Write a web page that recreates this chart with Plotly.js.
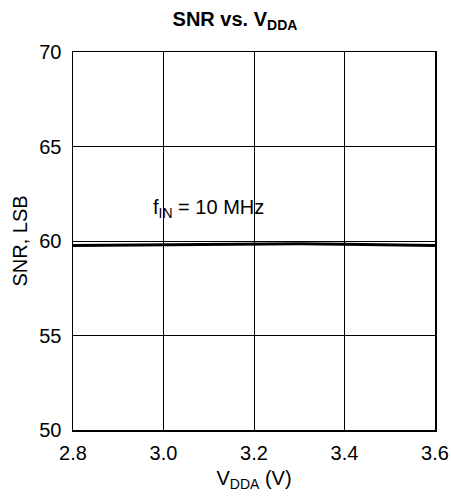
<!DOCTYPE html>
<html>
<head>
<meta charset="utf-8">
<script src="https://cdn.plot.ly/plotly-3.0.1.min.js"></script>
<style>html,body{margin:0;padding:0;background:#fff;}#chart{width:451px;height:501px;}</style>
</head>
<body>
<div id="chart"></div>
<script>
const vdda = [2.8, 2.9, 3.0, 3.1, 3.2, 3.3, 3.4, 3.5, 3.6];
const snr = [59.76, 59.78, 59.80, 59.83, 59.85, 59.85, 59.83, 59.80, 59.76];
const xTicks = [2.8, 3.0, 3.2, 3.4, 3.6];
const xTickLabels = ["2.8", "3.0", "3.2", "3.4", "3.6"];
const yTicks = [50, 55, 60, 65, 70];

const font = "Liberation Sans, Arial, sans-serif";
Plotly.newPlot('chart', [{
  x: vdda, y: snr, type: 'scatter', mode: 'lines',
  line: {color: '#000', width: 3}, hoverinfo: 'skip'
}], {
  width: 451, height: 501,
  margin: {l: 73, r: 16, t: 52, b: 71},
  paper_bgcolor: '#fff', plot_bgcolor: '#fff',
  showlegend: false,
  title: {text: '<b>SNR vs. V<sub>DDA</sub></b>', font: {family: font, size: 20, color: '#000'}, x: 0.521, xanchor: 'center', y: 0.962, yanchor: 'middle'},
  xaxis: {
    range: [2.8, 3.6], tickvals: xTicks, ticktext: xTickLabels,
    showgrid: true, gridcolor: '#000', gridwidth: 1,
    showline: true, linecolor: '#000', linewidth: 1.5, mirror: true,
    ticks: '', zeroline: false, ticklabelstandoff: 4,
    tickfont: {family: font, size: 20, color: '#000'},
    title: {text: 'V<sub>DDA</sub> (V)', font: {family: font, size: 20, color: '#000'}, standoff: 8}
  },
  yaxis: {
    range: [50, 70], tickvals: yTicks,
    showgrid: true, gridcolor: '#000', gridwidth: 1,
    showline: true, linecolor: '#000', linewidth: 1.5, mirror: true,
    ticks: '', zeroline: false, ticklabelstandoff: 6,
    tickfont: {family: font, size: 20, color: '#000'},
    title: {text: 'SNR, LSB', font: {family: font, size: 20, color: '#000'}, standoff: 6}
  },
  annotations: [{
    x: 3.1, y: 61.7, xref: 'x', yref: 'y', showarrow: false,
    text: 'f<sub>IN</sub> = 10 MHz', font: {family: font, size: 20, color: '#000'},
    bgcolor: 'rgba(0,0,0,0)'
  }]
}, {staticPlot: true, displayModeBar: false});
</script>
</body>
</html>
